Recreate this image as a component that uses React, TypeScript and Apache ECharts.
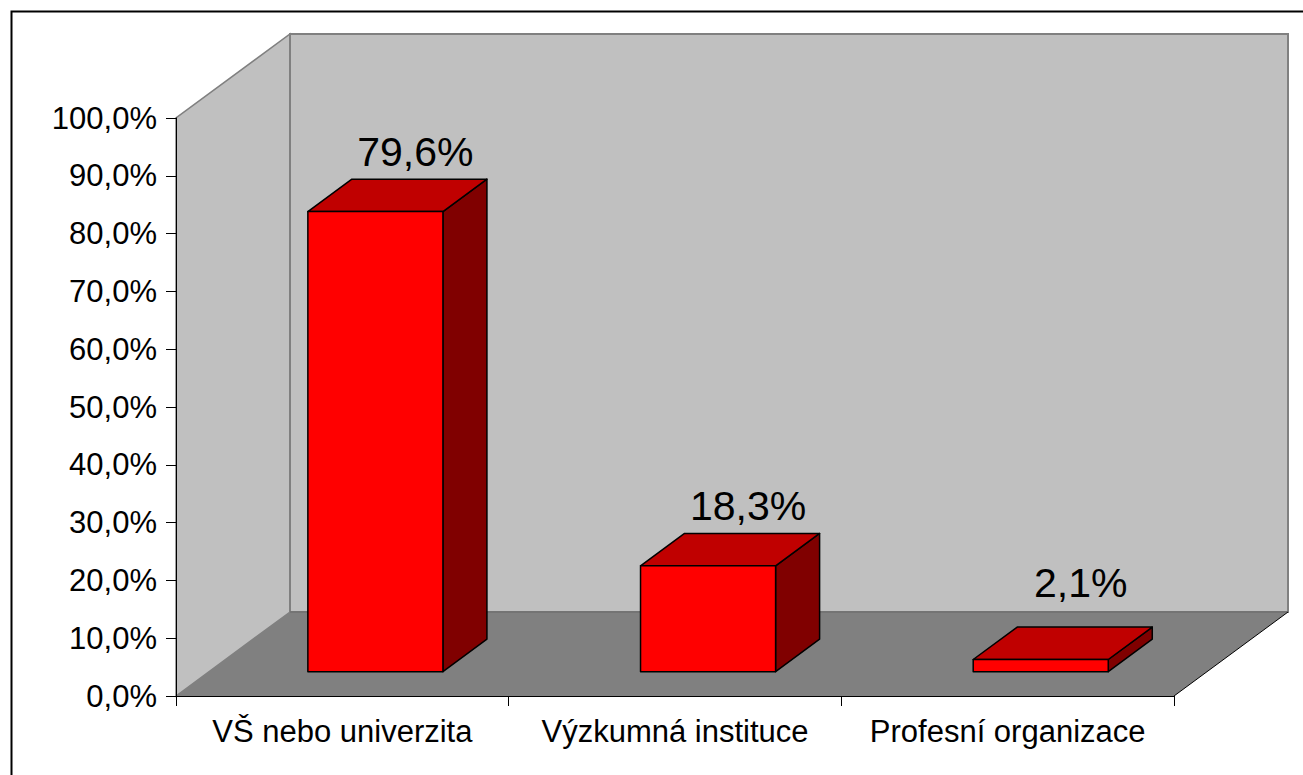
import React, { useEffect, useRef } from "react";
import * as echarts from "echarts";

const categories = ["VŠ nebo univerzita", "Výzkumná instituce", "Profesní organizace"];
const values = [79.6, 18.3, 2.1];
const yMin = 0;
const yMax = 100;
const yInterval = 10;

const FONT = "'Liberation Sans', Arial, sans-serif";
const DX = 114;
const DY = 84;
const F1 = 0.29;
const F2 = 0.676;
const BAR_FRAC = 0.406;

const fmt = (v: number) => v.toFixed(1).replace(".", ",") + "%";

export default function App() {
  const ref = useRef<HTMLDivElement>(null);
  useEffect(() => {
    if (!ref.current) return;
    const chart = echarts.init(ref.current, null, { renderer: "svg" });
    chart.setOption({
      animation: false,
      backgroundColor: "#ffffff",
      grid: { left: 176, right: 129, top: 118, bottom: 79, containLabel: false },
      graphic: [
        {
          type: "rect",
          z: 100,
          shape: { x: 11.5, y: 11.5, width: 1400, height: 900 },
          style: { fill: "none", stroke: "#000", lineWidth: 2 },
        },
      ],
      xAxis: {
        type: "category",
        data: categories,
        z: 10,
        axisLine: { lineStyle: { color: "#000", width: 1 } },
        axisTick: { show: true, length: 10, alignWithLabel: false, lineStyle: { color: "#000" } },
        axisLabel: { color: "#000", fontSize: 31, fontFamily: FONT, margin: 20, interval: 0 },
        splitLine: { show: false },
      },
      yAxis: {
        type: "value",
        min: yMin,
        max: yMax,
        interval: yInterval,
        z: 10,
        axisLine: { show: true, lineStyle: { color: "#000", width: 1 } },
        axisTick: { show: true, length: 10, lineStyle: { color: "#000" } },
        axisLabel: { color: "#000", fontSize: 31, fontFamily: FONT, margin: 19, formatter: (v: number) => fmt(v) },
        splitLine: { show: false },
      },
      series: [
        {
          type: "custom",
          z: 1,
          clip: false,
          silent: true,
          data: [[0, 0]],
          renderItem: (params: any, api: any) => {
            const p0 = api.coord([0, yMin]);
            const bw = api.size([1, 0])[0];
            const left = p0[0] - bw / 2;
            const right = api.coord([categories.length - 1, yMin])[0] + bw / 2;
            const bottom = p0[1];
            const top = api.coord([0, yMax])[1];
            return {
              type: "group",
              children: [
                {
                  type: "polygon",
                  shape: { points: [[left, bottom], [left, top], [left + DX, top - DY], [left + DX, bottom - DY]] },
                  style: { fill: "#C0C0C0", stroke: "#808080", lineWidth: 1.5 },
                },
                {
                  type: "rect",
                  shape: { x: left + DX, y: top - DY, width: right - left, height: bottom - top },
                  style: { fill: "#C0C0C0", stroke: "#808080", lineWidth: 2 },
                },
                {
                  type: "polygon",
                  shape: { points: [[left, bottom], [right, bottom], [right + DX, bottom - DY], [left + DX, bottom - DY]] },
                  style: { fill: "#808080" },
                },
                {
                  type: "line",
                  shape: { x1: left + DX, y1: bottom - DY, x2: right + DX, y2: bottom - DY },
                  style: { stroke: "#707070", lineWidth: 1.5 },
                },
                {
                  type: "line",
                  shape: { x1: right, y1: bottom, x2: right + DX, y2: bottom - DY },
                  style: { stroke: "#000", lineWidth: 1 },
                },
              ],
            };
          },
        },
        {
          type: "custom",
          z: 2,
          clip: false,
          data: values.map((v, i) => [i, v]),
          renderItem: (params: any, api: any) => {
            const i = api.value(0);
            const v = api.value(1);
            const c = api.coord([i, v]);
            const b = api.coord([i, yMin]);
            const bw = api.size([1, 0])[0] * BAR_FRAC;
            const x0 = c[0] - bw / 2 + F1 * DX;
            const x1 = x0 + bw;
            const yTop = c[1] - F1 * DY;
            const yBot = b[1] - F1 * DY;
            const ddx = (F2 - F1) * DX;
            const ddy = (F2 - F1) * DY;
            const floorBack = b[1] - DY;
            const edge = { stroke: "#000", lineWidth: 1.5, lineJoin: "round" };
            return {
              type: "group",
              children: [
                {
                  type: "polygon",
                  shape: { points: [[x1, yTop], [x1 + ddx, yTop - ddy], [x1 + ddx, yBot - ddy], [x1, yBot]] },
                  style: { fill: "#800000", ...edge },
                },
                {
                  type: "polygon",
                  shape: { points: [[x0, yTop], [x0 + ddx, yTop - ddy], [x1 + ddx, yTop - ddy], [x1, yTop]] },
                  style: { fill: "#C00000", ...edge },
                },
                {
                  type: "rect",
                  shape: { x: x0, y: yTop, width: bw, height: yBot - yTop },
                  style: { fill: "#FF0000", ...edge },
                },
                {
                  type: "text",
                  style: {
                    text: fmt(v),
                    x: (x0 + x1) / 2 + ddx - 4,
                    y: Math.min(yTop - ddy - 7, floorBack - 9),
                    align: "center",
                    verticalAlign: "bottom",
                    fontSize: 41,
                    fontFamily: FONT,
                    fill: "#000",
                  },
                },
              ],
            };
          },
        },
      ],
    });
    return () => chart.dispose();
  }, []);
  return (
    <div
      ref={ref}
      style={{ position: "fixed", left: 0, top: 0, width: 1303, height: 775, background: "#fff" }}
    />
  );
}
